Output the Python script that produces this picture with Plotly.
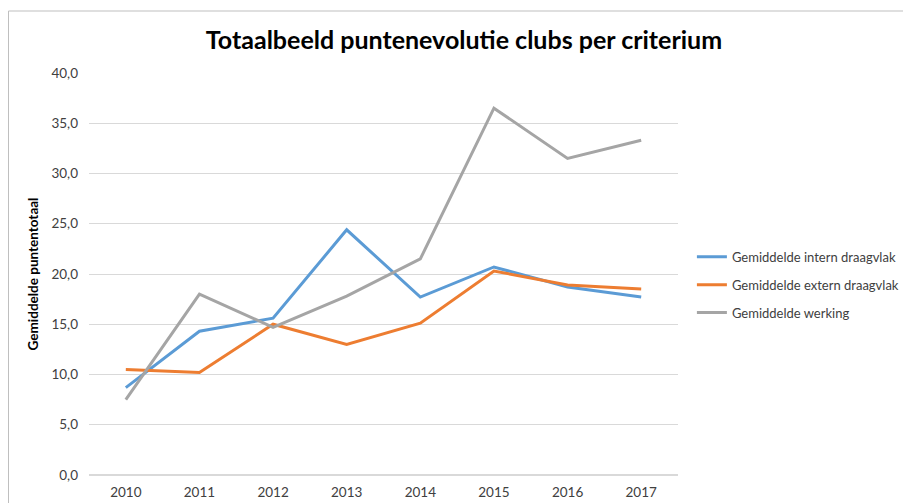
import plotly.graph_objects as go

# --- data ---
years = ["2010", "2011", "2012", "2013", "2014", "2015", "2016", "2017"]
intern_draagvlak = [8.7, 14.3, 15.6, 24.4, 17.7, 20.7, 18.7, 17.7]
extern_draagvlak = [10.5, 10.2, 15.0, 13.0, 15.1, 20.3, 18.9, 18.5]
werking = [7.5, 18.0, 14.7, 17.8, 21.5, 36.5, 31.5, 33.3]

series_names = [
    "Gemiddelde intern draagvlak",
    "Gemiddelde extern draagvlak",
    "Gemiddelde werking",
]
series_colors = ["#5B9BD5", "#ED7D31", "#A5A5A5"]

fig = go.Figure()
for i, (name, values, color) in enumerate(zip(series_names, [intern_draagvlak, extern_draagvlak, werking], series_colors)):
    fig.add_trace(go.Scatter(
        x=years, y=values, name=name, mode="lines",
        line=dict(color=color, width=3), legendgroup=f"g{i}",
    ))

# page body has an 8px margin, so figure coords = screenshot coords - 8
# plot area (figure px): x 81..670, y 65..467
fig.update_layout(
    width=911, height=503,
    margin=dict(l=81, r=241, t=65, b=36, autoexpand=False),
    paper_bgcolor="white", plot_bgcolor="white",
    separators=",.",
    font=dict(family="Lato, Open Sans, sans-serif", size=13.5, color="#404040"),
    title=dict(
        text="<b>Totaalbeeld puntenevolutie clubs per criterium</b>",
        x=456 / 911, xanchor="center", xref="container",
        y=1 - 32 / 503, yanchor="middle", yref="container",
        font=dict(size=25, color="#000000"),
    ),
    showlegend=True,
    legend=dict(
        x=1.0236, xanchor="left", y=0.58, yanchor="top",
        font=dict(size=13, color="#404040"),
        tracegroupgap=8, bgcolor="rgba(0,0,0,0)",
    ),
)

fig.update_xaxes(
    type="category", range=[-0.5, 7.5],
    showgrid=False, showline=False, zeroline=False,
    ticks="", ticklabelstandoff=7, tickfont=dict(size=13.5, color="#404040"),
)
fig.update_yaxes(
    range=[0, 40], dtick=5, tickformat=".1f",
    showgrid=True, gridcolor="#D9D9D9", gridwidth=1,
    zeroline=True, zerolinecolor="#D9D9D9", showline=False,
    ticks="", ticklabelstandoff=10, tickfont=dict(size=13.5, color="#404040"),
    title=dict(text="<b>Gemiddelde puntentotaal</b>", font=dict(size=13.5, color="#000000"), standoff=9),
)

# chart-area border (top and left edge visible in the reference)
fig.add_shape(
    type="rect", xref="paper", yref="paper",
    x0=(0.5 - 81) / 589, x1=(930 - 81) / 589,
    y0=(467 - 520) / 402, y1=(467 - 3) / 402,
    line=dict(color="#BFBFBF", width=1), fillcolor="rgba(0,0,0,0)", layer="below",
)

fig.write_html("out.html")
